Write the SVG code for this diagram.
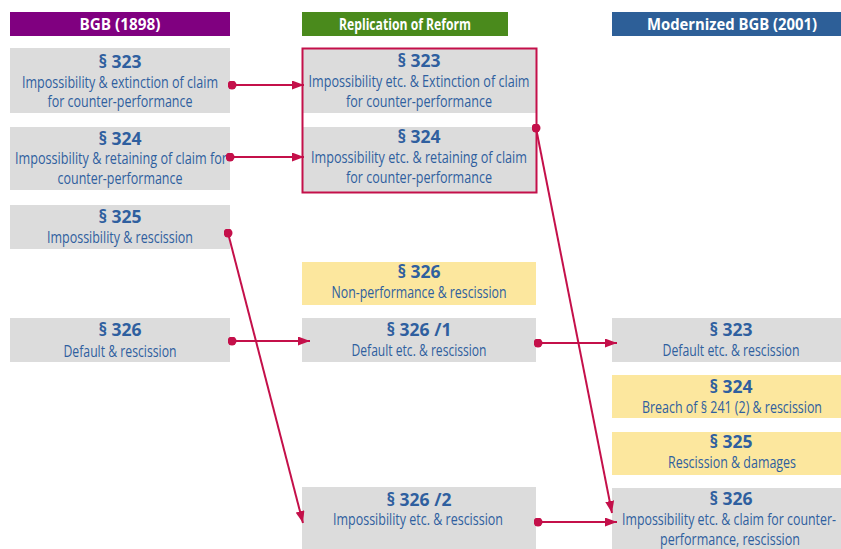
<svg xmlns="http://www.w3.org/2000/svg" width="841" height="549" viewBox="0 0 841 549">
<style>
.gray{fill:#dcdcdc}
.yel{fill:#fce79e}
.hd{font-family:"Open Sans","Liberation Sans",sans-serif;font-weight:bold;font-size:16px;fill:#ffffff;text-anchor:middle}
.t{font-family:"Open Sans","Liberation Sans",sans-serif;font-size:16.5px;fill:#2f5f9f;text-anchor:middle}
.b{font-family:"Open Sans","Liberation Sans",sans-serif;font-weight:bold;font-size:17.5px;fill:#2f5f9f;text-anchor:middle}
.c{stroke:#c4104a;stroke-width:2;fill:none;marker-start:url(#dot);marker-end:url(#arr)}
</style>
<defs>
<marker id="arr" viewBox="0 0 12 9" refX="12" refY="4.5" markerWidth="12" markerHeight="9" markerUnits="userSpaceOnUse" orient="auto"><path d="M0,0L12,4.5L0,9z" fill="#c4104a"/></marker>
<marker id="dot" viewBox="0 0 10 10" refX="5" refY="5" markerWidth="9" markerHeight="9" markerUnits="userSpaceOnUse"><circle cx="5" cy="5" r="5" fill="#c4104a"/></marker>
</defs>
<g id="headers">
<rect x="10" y="12" width="220" height="24" fill="#800080"/>
<text class="hd" x="120" y="29.5" textLength="81" lengthAdjust="spacingAndGlyphs">BGB (1898)</text>
<rect x="302" y="12" width="206" height="24" fill="#4a8a1c"/>
<text class="hd" x="405" y="29.5" textLength="132" lengthAdjust="spacingAndGlyphs">Replication of Reform</text>
<rect x="612" y="12" width="229" height="24" fill="#2d5f98"/>
<text class="hd" x="732" y="29.5" textLength="170" lengthAdjust="spacingAndGlyphs">Modernized BGB (2001)</text>
</g>
<g id="old323"><rect class="gray" x="10" y="48" width="220" height="65"/>
<text class="b" x="120" y="68">§ 323</text>
<text class="t" x="120" y="88" textLength="196" lengthAdjust="spacingAndGlyphs">Impossibility &amp; extinction of claim</text>
<text class="t" x="120" y="107" textLength="145" lengthAdjust="spacingAndGlyphs">for counter-performance</text></g>
<g id="old324"><rect class="gray" x="10" y="127" width="220" height="63"/>
<text class="b" x="120" y="145">§ 324</text>
<text class="t" x="121" y="164" textLength="212" lengthAdjust="spacingAndGlyphs">Impossibility &amp; retaining of claim for</text>
<text class="t" x="120" y="184" textLength="125" lengthAdjust="spacingAndGlyphs">counter-performance</text></g>
<g id="old325"><rect class="gray" x="10" y="205" width="220" height="44"/>
<text class="b" x="120" y="223">§ 325</text>
<text class="t" x="120" y="243" textLength="146" lengthAdjust="spacingAndGlyphs">Impossibility &amp; rescission</text></g>
<g id="old326"><rect class="gray" x="10" y="318" width="220" height="44"/>
<text class="b" x="120" y="336">§ 326</text>
<text class="t" x="120" y="357" textLength="113" lengthAdjust="spacingAndGlyphs">Default &amp; rescission</text></g>
<g id="rep323"><rect class="gray" x="302" y="48" width="234" height="65"/>
<text class="b" x="419" y="67">§ 323</text>
<text class="t" x="419" y="87" textLength="221" lengthAdjust="spacingAndGlyphs">Impossibility etc. &amp; Extinction of claim</text>
<text class="t" x="419" y="107" textLength="146" lengthAdjust="spacingAndGlyphs">for counter-performance</text></g>
<g id="rep324"><rect class="gray" x="302" y="127" width="234" height="65"/>
<text class="b" x="419" y="143">§ 324</text>
<text class="t" x="419" y="163" textLength="216" lengthAdjust="spacingAndGlyphs">Impossibility etc. &amp; retaining of claim</text>
<text class="t" x="419" y="183" textLength="146" lengthAdjust="spacingAndGlyphs">for counter-performance</text></g>
<g id="repGroup"><rect x="302.5" y="48.5" width="234" height="144" fill="none" stroke="#c4104a" stroke-width="2"/></g>
<g id="rep326"><rect class="yel" x="302" y="262" width="234" height="43"/>
<text class="b" x="419" y="278">§ 326</text>
<text class="t" x="419" y="298" textLength="175" lengthAdjust="spacingAndGlyphs">Non-performance &amp; rescission</text></g>
<g id="rep326-1"><rect class="gray" x="302" y="318" width="234" height="44"/>
<text class="b" x="419" y="336">§ 326 /1</text>
<text class="t" x="419" y="356" textLength="135" lengthAdjust="spacingAndGlyphs">Default etc. &amp; rescission</text></g>
<g id="rep326-2"><rect class="gray" x="302" y="487" width="234" height="62"/>
<text class="b" x="419" y="506">§ 326 /2</text>
<text class="t" x="418" y="525" textLength="170" lengthAdjust="spacingAndGlyphs">Impossibility etc. &amp; rescission</text></g>
<g id="new323"><rect class="gray" x="612" y="318" width="229" height="44"/>
<text class="b" x="731" y="336">§ 323</text>
<text class="t" x="731" y="356" textLength="137" lengthAdjust="spacingAndGlyphs">Default etc. &amp; rescission</text></g>
<g id="new324"><rect class="yel" x="612" y="375" width="229" height="43"/>
<text class="b" x="731" y="393">§ 324</text>
<text class="t" x="732" y="413" textLength="180" lengthAdjust="spacingAndGlyphs">Breach of § 241 (2) &amp; rescission</text></g>
<g id="new325"><rect class="yel" x="612" y="432" width="229" height="43"/>
<text class="b" x="731" y="448">§ 325</text>
<text class="t" x="732" y="468" textLength="128" lengthAdjust="spacingAndGlyphs">Rescission &amp; damages</text></g>
<g id="new326"><rect class="gray" x="612" y="488" width="229" height="61"/>
<text class="b" x="731" y="505">§ 326</text>
<text class="t" x="729" y="525" textLength="214" lengthAdjust="spacingAndGlyphs">Impossibility etc. &amp; claim for counter-</text>
<text class="t" x="730" y="545" textLength="140" lengthAdjust="spacingAndGlyphs">performance, rescission</text></g>
<g id="connectors">
<path class="c" d="M232,85L304,85"/>
<path class="c" d="M230,157L304,157"/>
<path class="c" d="M228,233L303,523"/>
<path class="c" d="M232,341L310,341"/>
<path class="c" d="M536,128L612,513"/>
<path class="c" d="M538,343L617,343"/>
<path class="c" d="M538,522L617,522"/>
</g>
</svg>
